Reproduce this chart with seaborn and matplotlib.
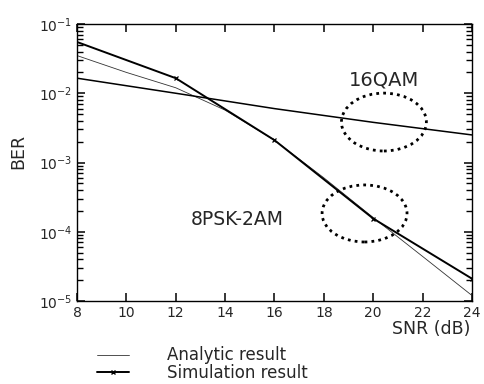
import numpy as np
import pandas as pd
import seaborn as sns
import matplotlib.pyplot as plt
from matplotlib.patches import Ellipse
from matplotlib.lines import Line2D

snr_sim = [8, 12, 16, 20, 24]
ber_sim_8psk = [5.5e-2, 1.65e-2, 2.1e-3, 1.55e-4, 2.1e-5]

snr_ana = [8, 10, 12, 14, 16, 18, 20, 22, 24]
ber_ana_8psk = [3.5e-2, 2.0e-2, 1.2e-2, 5.7e-3, 2.1e-3, 6.0e-4, 1.6e-4, 4.4e-5, 1.2e-5]

snr_qam = [8, 12, 16, 20, 24]
ber_qam = [1.65e-2, 1.0e-2, 6.0e-3, 3.8e-3, 2.5e-3]

xticks = [8, 10, 12, 14, 16, 18, 20, 22, 24]
yticks = [1e-5, 1e-4, 1e-3, 1e-2, 1e-1]
ytick_labels = [r'$10^{-5}$', r'$10^{-4}$', r'$10^{-3}$', r'$10^{-2}$', r'$10^{-1}$']

sns.set_style("ticks", {'xtick.direction': 'in', 'ytick.direction': 'in',
                        'xtick.top': True, 'ytick.right': True})
plt.rcParams['font.family'] = ['DejaVu Sans']
plt.rcParams['mathtext.fontset'] = 'dejavusans'
plt.rcParams['xtick.major.size'] = 6
plt.rcParams['ytick.major.size'] = 6
plt.rcParams['ytick.minor.size'] = 4
plt.rcParams['xtick.major.width'] = 1.1
plt.rcParams['ytick.major.width'] = 1.1
plt.rcParams['ytick.minor.width'] = 1.0

fig = plt.figure(figsize=(4.85, 3.84), dpi=100)
ax = fig.add_axes([77/485, 1-301/384, (472-77)/485, (301-24)/384])

df_ana = pd.DataFrame({'snr': snr_ana, 'ber': ber_ana_8psk})
df_sim = pd.DataFrame({'snr': snr_sim, 'ber': ber_sim_8psk})
df_qam = pd.DataFrame({'snr': snr_qam, 'ber': ber_qam})

sns.lineplot(data=df_ana, x='snr', y='ber', ax=ax, color='#333333', lw=0.6)
sns.lineplot(data=df_sim, x='snr', y='ber', ax=ax, color='black', lw=1.4,
             marker='x', markersize=3.5, markeredgewidth=0.9, markeredgecolor='black',
             markevery=[1, 2, 3, 4])
sns.lineplot(data=df_qam, x='snr', y='ber', ax=ax, color='black', lw=1.1)

ax.set_yscale('log')
ax.set_xlim(8, 24)
ax.set_ylim(1e-5, 1e-1)
ax.set_xticks(xticks)
ax.set_xticklabels([str(t) for t in xticks], fontsize=10)
ax.set_yticks(yticks)
ax.set_yticklabels(ytick_labels, fontsize=10)
minor_y = [m * 10.0**e for e in range(-5, -1) for m in range(2, 10)]
ax.set_yticks(minor_y, minor=True)
ax.set_yticklabels([''] * len(minor_y), minor=True)
ax.set_xticks([], minor=True)
ax.tick_params(direction='in', top=True, right=True, left=True, bottom=True,
               which='both', color='black', length=6, width=1.1)
ax.tick_params(which='minor', length=4, width=1.0)
ax.set_xlabel('')
ax.set_ylabel('')
for s in ax.spines.values():
    s.set_linewidth(1.0)
    s.set_visible(True)
    s.set_color('black')

ax.add_patch(Ellipse((0.777, 0.646), 0.215, 0.209, transform=ax.transAxes,
                     fill=False, ls=(0, (1, 1.5)), lw=2.0, ec='black'))
ax.add_patch(Ellipse((0.728, 0.316), 0.215, 0.206, transform=ax.transAxes,
                     fill=False, ls=(0, (1, 1.5)), lw=2.0, ec='black'))
ax.text(0.777, 0.798, '16QAM', transform=ax.transAxes, ha='center', va='center', fontsize=14)
ax.text(0.405, 0.296, '8PSK-2AM', transform=ax.transAxes, ha='center', va='center', fontsize=13.5)

fig.text(470/485, 1-329/384, 'SNR (dB)', ha='right', va='center', fontsize=12.5)
fig.text(18/485, 1-151/384, 'BER', ha='center', va='center', rotation=90, fontsize=12.5)

handles = [Line2D([], [], color='#333333', lw=0.6),
           Line2D([], [], color='black', lw=1.4, marker='x', markersize=3, markevery=[0, -1])]
leg = fig.legend(handles, ['Analytic result', 'Simulation result'], loc='upper left',
                 bbox_to_anchor=(89/485, 1-338/384), frameon=False, fontsize=12,
                 handlelength=1.9, handletextpad=2.3, labelspacing=-0.05, borderpad=0)

fig.savefig('out.png', dpi=100)
